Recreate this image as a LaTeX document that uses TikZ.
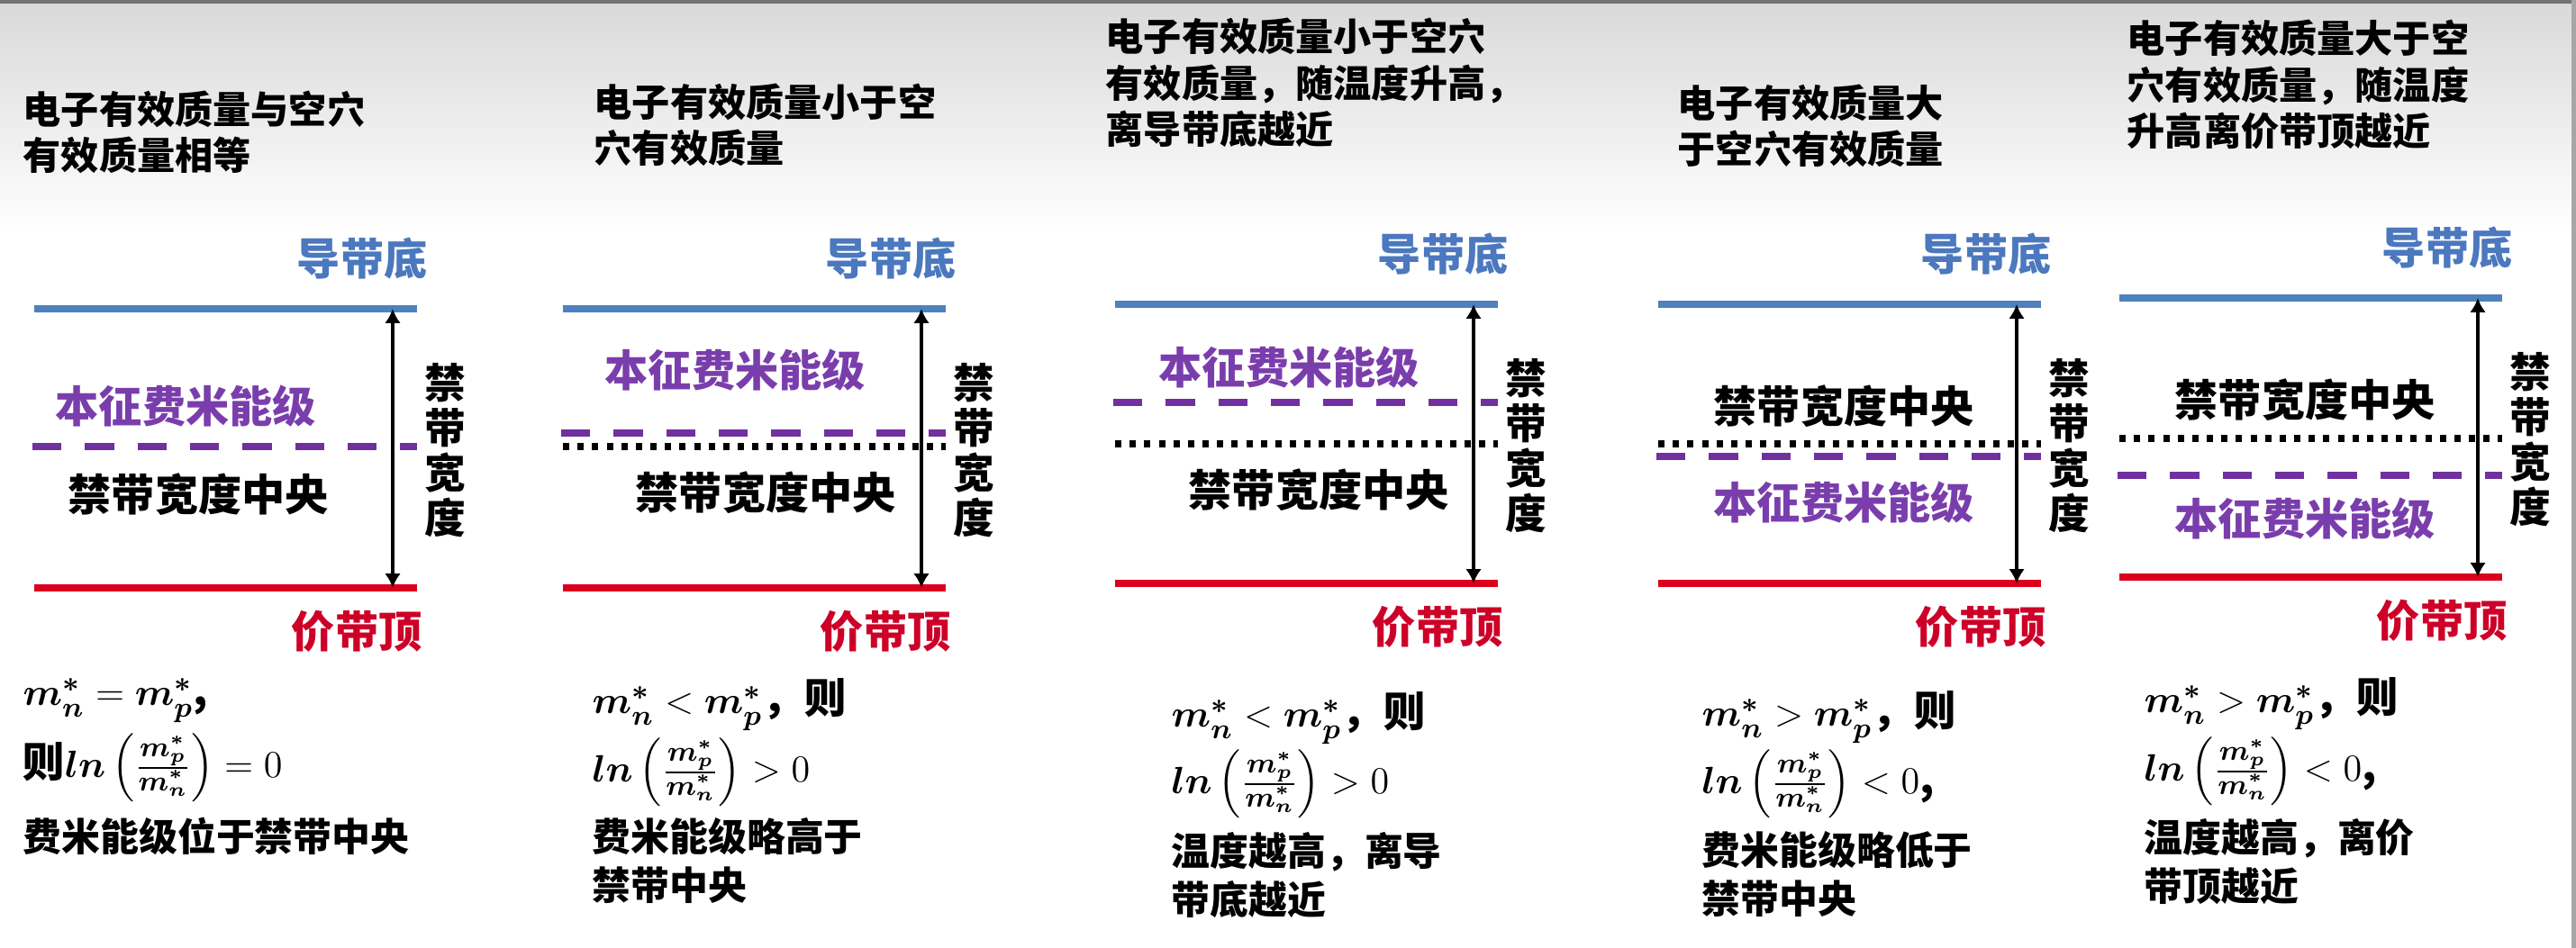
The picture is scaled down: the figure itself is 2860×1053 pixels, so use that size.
\documentclass[tikz,border=0pt]{standalone}
\usepackage[no-math]{fontspec}
\usepackage{amsmath}
\newfontfamily\cjk{Noto Sans CJK SC}
\usetikzlibrary{arrows.meta}
\definecolor{cbBlue}{RGB}{79,129,189}
\definecolor{cbText}{RGB}{75,120,190}
\definecolor{vbRed}{RGB}{220,0,30}
\definecolor{vbText}{RGB}{205,0,40}
\definecolor{fermiPurple}{RGB}{112,48,160}
\definecolor{fermiText}{RGB}{122,62,172}
\tikzset{
 cbline/.style={line width=2pt, cbBlue},
 vbline/.style={line width=2pt, vbRed},
 fermiline/.style={line width=2.1pt, fermiPurple, dash pattern=on 9.2pt off 7.4pt},
 midline/.style={line width=2pt, black, dash pattern=on 2pt off 2.6pt},
 gaparrow/.style={line width=1.15pt, {Latex[length=4.5pt,width=5pt]}-{Latex[length=4.5pt,width=5pt]}},
 ttl/.style={font=\cjk\bfseries\fontsize{12pt}{14.7pt}\selectfont, align=left, anchor=west, inner sep=0pt},
 lbl/.style={font=\cjk\bfseries\fontsize{13.7pt}{16pt}\selectfont, inner sep=0pt},
 cblbl/.style={lbl, text=cbText, anchor=east},
 vblbl/.style={lbl, text=vbText, anchor=east},
 fermilbl/.style={lbl, text=fermiText, anchor=west},
 midlbl/.style={lbl, anchor=west},
 vlbl/.style={font=\cjk\bfseries\fontsize{13pt}{14.2pt}\selectfont, align=center, inner sep=0pt},
 eqline/.style={font=\cjk\bfseries\fontsize{13.2pt}{16pt}\selectfont, anchor=west, inner sep=0pt},
 notetext/.style={font=\cjk\bfseries\fontsize{12.2pt}{15.5pt}\selectfont, anchor=west, align=left, inner sep=0pt},
}
\newcommand\bandpanel[4]{%
 \begin{scope}[shift={(#2,0)}]
  \coordinate (cbL#1) at (0,#3);
  \coordinate (cbR#1) at (425,#3);
  \coordinate (vbL#1) at (0,#4);
  \coordinate (vbR#1) at (425,#4);
  \coordinate (gT#1) at (398,#3);
  \coordinate (gB#1) at (398,#4);
  \draw[cbline] (cbL#1) -- (cbR#1);
  \draw[vbline] (vbL#1) -- (vbR#1);
  \draw[gaparrow] (gT#1) -- (gB#1);
  \node[cblbl] (cbt#1) at (437,{#3-56}) {导带底};
  \node[vblbl] (vbt#1) at (431,{#4+48}) {价带顶};
  \node[vlbl] (gw#1) at (456,{(#3+#4)/2+2}) {禁\\带\\宽\\度};
 \end{scope}}
\newcommand\fermiat[3]{% id, left, y
  \coordinate (fL#1) at (#2-2,#3);
  \coordinate (fR#1) at (#2+425,#3);
  \draw[fermiline] (fL#1) -- (fR#1);}
\newcommand\midat[3]{%
  \coordinate (mL#1) at (#2,#3);
  \coordinate (mR#1) at (#2+425,#3);
  \draw[midline] (mL#1) -- (mR#1);}
\newcommand\bmath[1]{\text{\boldmath$#1$}}
\newcommand\effn{\bmath{m_n^*}}
\newcommand\effp{\bmath{m_p^*}}
\newcommand\lnfrac{\bmath{ln}\left(\frac{\effp}{\effn}\right)}
\begin{document}
\begin{tikzpicture}[x=0.1mm,y=-0.1mm]
\useasboundingbox (0,0) rectangle (2860,1053);
\fill[white] (0,0) rectangle (2860,1053);
\shade[top color=black!15, bottom color=white] (0,0) rectangle (2860,260);
\fill[black!55] (0,0) rectangle (2860,4);
\fill[black!35] (2855,0) rectangle (2860,1053);

% ---------- panel 1
\node[ttl] (t1) at (25,147) {电子有效质量与空穴\\有效质量相等};
\fermiat{1}{38}{496}
\bandpanel{1}{38}{343}{653}
\node[fermilbl] (fl1) at (61,451) {本征费米能级};
\node[midlbl] (ml1) at (75,549) {禁带宽度中央};
\node[eqline] (e1a) at (25,778) {$\effn=\effp$,};
\node[eqline] (e1b) at (25,853) {则$\lnfrac=0$};
\node[notetext] (n1) at (25,929) {费米能级位于禁带中央};

% ---------- panel 2
\node[ttl] (t2) at (659,139) {电子有效质量小于空\\穴有效质量};
\fermiat{2}{625}{481}
\midat{2}{625}{496}
\bandpanel{2}{625}{343}{653}
\node[fermilbl] (fl2) at (671,411) {本征费米能级};
\node[midlbl] (ml2) at (705,547) {禁带宽度中央};
\node[eqline] (e2a) at (657,783) {$\effn<\effp$，则};
\node[eqline] (e2b) at (657,858) {$\lnfrac>0$};
\node[notetext] (n2) at (657,956) {费米能级略高于\\禁带中央};

% ---------- panel 3
\node[ttl] (t3) at (1227,92) {电子有效质量小于空穴\\有效质量，随温度升高，\\离导带底越近};
\fermiat{3}{1238}{447}
\midat{3}{1238}{493}
\bandpanel{3}{1238}{338}{648}
\node[fermilbl] (fl3) at (1286,408) {本征费米能级};
\node[midlbl] (ml3) at (1319,544) {禁带宽度中央};
\node[eqline] (e3a) at (1300,798) {$\effn<\effp$，则};
\node[eqline] (e3b) at (1300,871) {$\lnfrac>0$};
\node[notetext] (n3) at (1300,972) {温度越高，离导\\带底越近};

% ---------- panel 4
\node[ttl] (t4) at (1862,140) {电子有效质量大\\于空穴有效质量};
\midat{4}{1841}{493}
\fermiat{4}{1841}{507}
\bandpanel{4}{1841}{338}{648}
\node[midlbl] (ml4) at (1902,451) {禁带宽度中央};
\node[fermilbl] (fl4) at (1902,558) {本征费米能级};
\node[eqline] (e4a) at (1889,797) {$\effn>\effp$，则};
\node[eqline] (e4b) at (1889,871) {$\lnfrac<0$,};
\node[notetext] (n4) at (1889,971) {费米能级略低于\\禁带中央};

% ---------- panel 5
\node[ttl] (t5) at (2361,94) {电子有效质量大于空\\穴有效质量，随温度\\升高离价带顶越近};
\midat{5}{2353}{487}
\fermiat{5}{2353}{528}
\bandpanel{5}{2353}{331}{641}
\node[midlbl] (ml5) at (2414,444) {禁带宽度中央};
\node[fermilbl] (fl5) at (2414,576) {本征费米能级};
\node[eqline] (e5a) at (2380,782) {$\effn>\effp$，则};
\node[eqline] (e5b) at (2380,857) {$\lnfrac<0$,};
\node[notetext] (n5) at (2380,957) {温度越高，离价\\带顶越近};
\end{tikzpicture}
\end{document}
